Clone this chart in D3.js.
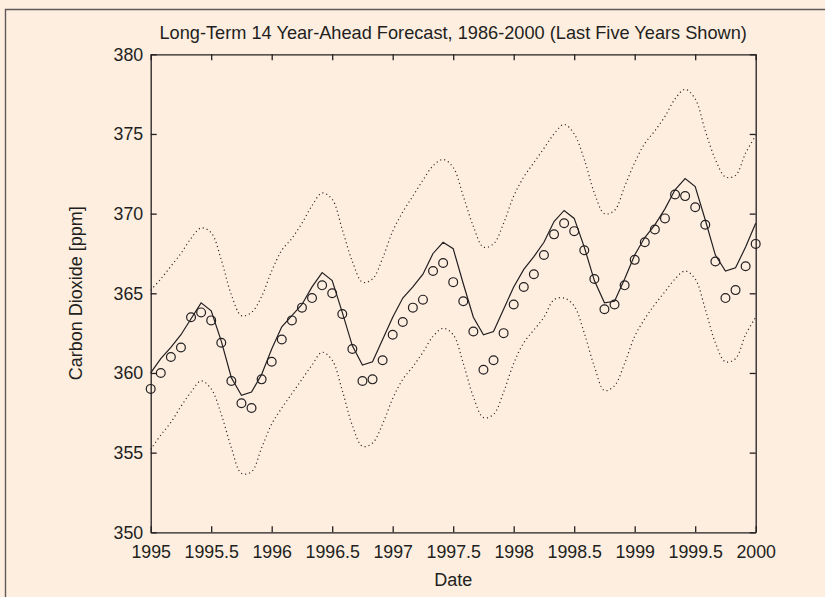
<!DOCTYPE html>
<html>
<head>
<meta charset="utf-8">
<script src="https://cdn.jsdelivr.net/npm/d3@7"></script>
<style>
  html, body { margin: 0; padding: 0; background: #fdeee0; }
  svg { display: block; }
  text { font-family: "Liberation Sans", Arial, Helvetica, sans-serif; fill: #231f20; }
  .ax path, .ax line { stroke: #231f20; stroke-width: 1.3; }
</style>
</head>
<body>
<script>
// monthly CO2 readings and the 14-year-ahead forecast band, 1995-2000
const START = 1995, MONTHS = 61;
const dates = d3.range(MONTHS).map((i) => START + i / 12);

const observed = [
  359.0, 360.0, 361.0, 361.6, 363.5, 363.8, 363.3, 361.9, 359.5, 358.1, 357.8, 359.6,
  360.7, 362.1, 363.3, 364.1, 364.7, 365.5, 365.0, 363.7, 361.5, 359.5, 359.6, 360.8,
  362.4, 363.2, 364.1, 364.6, 366.4, 366.9, 365.7, 364.5, 362.6, 360.2, 360.8, 362.5,
  364.3, 365.4, 366.2, 367.4, 368.7, 369.4, 368.9, 367.7, 365.9, 364.0, 364.3, 365.5,
  367.1, 368.2, 369.0, 369.7, 371.2, 371.1, 370.4, 369.3, 367.0, 364.7, 365.2, 366.7,
  368.1
];

const forecast = [
  360.0, 360.9, 361.6, 362.4, 363.4, 364.4, 363.9, 362.0, 359.7, 358.6, 358.8, 359.9,
  361.5, 362.9, 363.6, 364.3, 365.4, 366.3, 365.8, 363.8, 361.7, 360.5, 360.7, 362.1,
  363.5, 364.7, 365.4, 366.2, 367.5, 368.2, 367.8, 365.6, 363.5, 362.4, 362.6, 364.0,
  365.4, 366.5, 367.3, 368.2, 369.5, 370.2, 369.7, 367.9, 365.8, 364.4, 364.5, 365.9,
  367.4, 368.5, 369.3, 370.3, 371.5, 372.2, 371.7, 369.6, 367.4, 366.4, 366.6, 367.9,
  369.4
];

const upper = [
  365.2, 365.9, 366.7, 367.5, 368.45, 369.1, 368.8, 367.1, 364.9, 363.6, 363.8, 364.8,
  366.4, 367.7, 368.45, 369.4, 370.5, 371.3, 370.9, 369.0, 367.0, 365.7, 365.9, 367.2,
  368.9, 370.1, 371.1, 372.1, 373.0, 373.4, 372.9, 371.1, 369.2, 367.9, 368.1, 369.4,
  371.1, 372.3, 373.2, 374.1, 375.0, 375.6, 375.0, 373.4, 371.3, 370.0, 370.2, 371.7,
  373.2, 374.4, 375.2, 376.1, 377.2, 377.8, 377.2, 375.2, 373.4, 372.3, 372.4, 373.8,
  374.9
];

const lower = [
  355.2, 356.1, 356.9, 357.9, 358.8, 359.5, 359.0, 357.4, 355.3, 353.7, 353.8, 355.3,
  356.8, 357.8, 358.7, 359.6, 360.5, 361.3, 360.8, 358.9, 356.7, 355.4, 355.6, 356.8,
  358.4, 359.6, 360.4, 361.3, 362.3, 362.8, 362.4, 360.6, 358.5, 357.2, 357.4, 358.8,
  360.6, 361.9, 362.7, 363.5, 364.6, 364.7, 364.2, 362.5, 360.4, 358.9, 359.2, 360.6,
  362.3, 363.4, 364.3, 365.1, 365.9, 366.4, 365.9, 364.0, 361.9, 360.7, 360.9, 362.4,
  363.5
];

const xTicks = [1995, 1995.5, 1996, 1996.5, 1997, 1997.5, 1998, 1998.5, 1999, 1999.5, 2000];
const yTicks = [350, 355, 360, 365, 370, 375, 380];

const TITLE = "Long-Term 14 Year-Ahead Forecast, 1986-2000 (Last Five Years Shown)";
const XLABEL = "Date";
const YLABEL = "Carbon Dioxide [ppm]";

// frame
const W = 825, H = 597;
const M = { top: 54.3, right: 69.3, bottom: 64.7, left: 150.7 };
const IW = W - M.left - M.right;
const IH = H - M.top - M.bottom;

const svg = d3.select("body").append("svg").attr("width", W).attr("height", H);
svg.append("rect").attr("width", W).attr("height", H).attr("fill", "#fdeee0");

// outer picture border (only top and left edges fall inside the crop)
svg.append("path")
  .attr("d", `M5.5,${H}V9.5H${W}`)
  .attr("fill", "none")
  .attr("stroke", "#5f5a58")
  .attr("stroke-width", 1.4);

const g = svg.append("g").attr("transform", `translate(${M.left},${M.top})`);

const x = d3.scaleLinear().domain([1995, 2000]).range([0, IW]);
const y = d3.scaleLinear().domain([350, 380]).range([IH, 0]);

const fmt = (d) => String(d);

// axes, MATLAB-style: ticks point inward on all four sides
g.append("g").attr("class", "ax").attr("transform", `translate(0,${IH})`)
  .call(d3.axisBottom(x).tickValues(xTicks).tickFormat(fmt).tickSize(-6).tickSizeOuter(0).tickPadding(13));
g.append("g").attr("class", "ax")
  .call(d3.axisLeft(y).tickValues(yTicks).tickFormat(fmt).tickSize(-6).tickSizeOuter(0).tickPadding(7.5));
g.append("g").attr("class", "ax")
  .call(d3.axisTop(x).tickValues(xTicks).tickFormat("").tickSize(-6).tickSizeOuter(0));
g.append("g").attr("class", "ax").attr("transform", `translate(${IW},0)`)
  .call(d3.axisRight(y).tickValues(yTicks).tickFormat("").tickSize(-6).tickSizeOuter(0));

g.selectAll(".ax text").attr("font-size", 17.8).attr("fill", "#231f20");

// bounds (dotted)
const smooth = d3.line()
  .x((d, i) => x(dates[i]))
  .y((d) => y(d))
  .curve(d3.curveCatmullRom);
[upper, lower].forEach((s) => {
  g.append("path")
    .attr("d", smooth(s))
    .attr("fill", "none")
    .attr("stroke", "#2a2526")
    .attr("stroke-width", 1.2)
    .attr("stroke-dasharray", "1.1,3");
});

// forecast (solid polyline)
const poly = d3.line().x((d, i) => x(dates[i])).y((d) => y(d));
g.append("path")
  .attr("d", poly(forecast))
  .attr("fill", "none")
  .attr("stroke", "#231f20")
  .attr("stroke-width", 1.2);

// observed (open circles)
g.selectAll("circle.obs")
  .data(observed)
  .join("circle")
  .attr("class", "obs")
  .attr("cx", (d, i) => x(dates[i]))
  .attr("cy", (d) => y(d))
  .attr("r", 4.4)
  .attr("fill", "none")
  .attr("stroke", "#231f20")
  .attr("stroke-width", 1.2);

// titles
svg.append("text")
  .attr("x", M.left + IW / 2)
  .attr("y", 39)
  .attr("text-anchor", "middle")
  .attr("font-size", 18.2)
  .text(TITLE);
svg.append("text")
  .attr("x", M.left + IW / 2)
  .attr("y", 586)
  .attr("text-anchor", "middle")
  .attr("font-size", 18)
  .text(XLABEL);
svg.append("text")
  .attr("transform", `translate(82,${M.top + IH / 2}) rotate(-90)`)
  .attr("text-anchor", "middle")
  .attr("font-size", 18)
  .text(YLABEL);
</script>
</body>
</html>
